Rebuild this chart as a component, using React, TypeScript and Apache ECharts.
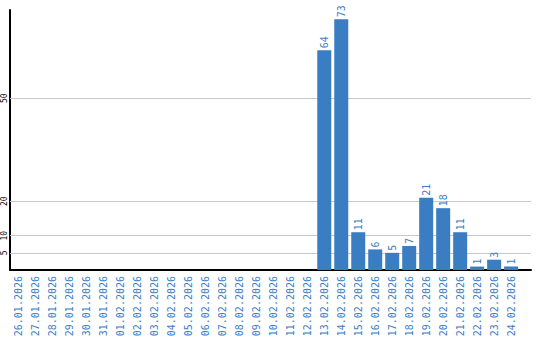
import React, { useEffect, useRef } from "react";
import * as echarts from "echarts";

const dates = [
  "26.01.2026", "27.01.2026", "28.01.2026", "29.01.2026", "30.01.2026", "31.01.2026",
  "01.02.2026", "02.02.2026", "03.02.2026", "04.02.2026", "05.02.2026", "06.02.2026",
  "07.02.2026", "08.02.2026", "09.02.2026", "10.02.2026", "11.02.2026", "12.02.2026",
  "13.02.2026", "14.02.2026", "15.02.2026", "16.02.2026", "17.02.2026", "18.02.2026",
  "19.02.2026", "20.02.2026", "21.02.2026", "22.02.2026", "23.02.2026", "24.02.2026",
];
const counts = [
  0, 0, 0, 0, 0, 0,
  0, 0, 0, 0, 0, 0,
  0, 0, 0, 0, 0, 0,
  64, 73, 11, 6, 5, 7,
  21, 18, 11, 1, 3, 1,
];
const yTicks = [5, 10, 20, 50];

const BLUE = "#3b7dc3";
const FONT = "'DejaVu Sans Mono', monospace";

export default function App() {
  const ref = useRef<HTMLDivElement>(null);
  useEffect(() => {
    if (!ref.current) return;
    const chart = echarts.init(ref.current, undefined, { renderer: "svg" });
    chart.setOption({
      animation: false,
      grid: { left: 10, right: 9, top: 10, bottom: 70, containLabel: false },
      xAxis: {
        type: "value",
        min: -0.5,
        max: 30.17,
        splitLine: { show: false },
        axisTick: { show: false },
        axisLine: { show: true, onZero: false, lineStyle: { color: "#000", width: 2 } },
        axisLabel: {
          customValues: dates.map((_, i) => i),
          formatter: (v: number) => dates[Math.round(v)] ?? "",
          rotate: 90,
          margin: 6,
          color: BLUE,
          fontFamily: FONT,
          fontSize: 10,
        },
      },
      yAxis: {
        type: "value",
        min: 0,
        max: 75.7,
        splitLine: { show: false },
        axisTick: { show: false },
        axisLine: { show: true, onZero: false, lineStyle: { color: "#000", width: 2 } },
        axisLabel: {
          customValues: yTicks,
          rotate: 90,
          margin: 2,
          color: "#000",
          fontFamily: FONT,
          fontSize: 8,
        },
      },
      series: [
        {
          type: "bar",
          data: counts.map((v, i) => [i, v]),
          barWidth: 14,
          itemStyle: { color: BLUE },
          label: {
            show: true,
            position: "top",
            rotate: 90,
            align: "left",
            verticalAlign: "middle",
            distance: 2,
            color: BLUE,
            fontFamily: FONT,
            fontSize: 10,
            formatter: (p: any) => (p.value[1] ? String(p.value[1]) : ""),
          },
          markLine: {
            silent: true,
            symbol: "none",
            label: { show: false },
            lineStyle: { color: "#c8c8c8", width: 1, type: "solid" },
            data: yTicks.map((t) => ({ yAxis: t })),
            z: 1,
          },
          z: 2,
        },
      ],
    });
    return () => chart.dispose();
  }, []);
  return <div ref={ref} style={{ width: 540, height: 340, position: "absolute", left: 0, top: 0 }} />;
}
